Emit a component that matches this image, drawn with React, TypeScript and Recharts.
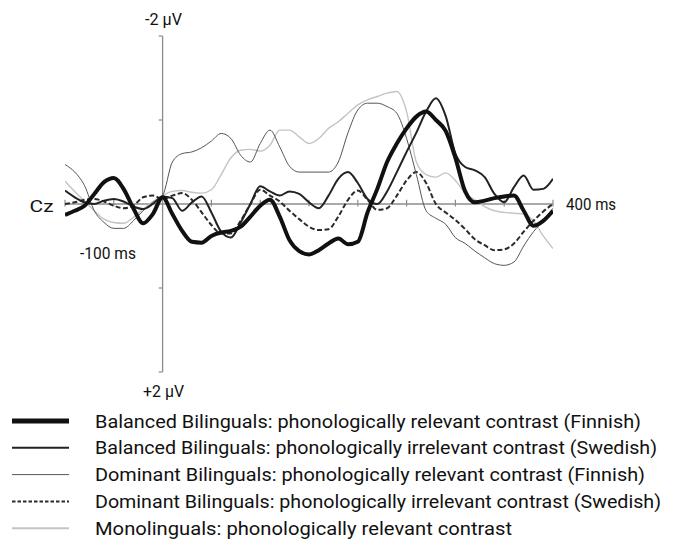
import { Line, LineChart, ReferenceDot, ReferenceLine, XAxis, YAxis } from "recharts";

// time in ms, amplitude in µV (negative plotted up)
const times = [
  -100, -90, -80, -70, -60, -50, -40, -30, -20, -10, 0, 10, 20, 30, 40, 50, 60,
  70, 80, 90, 100, 110, 120, 130, 140, 150, 160, 170, 180, 190, 200, 210, 220,
  230, 240, 250, 260, 270, 280, 290, 300, 310, 320, 330, 340, 350, 360, 370, 380,
  390, 400,
];

const balancedFinnish = [
  0.13, 0.08, 0.02, -0.12, -0.26, -0.31, -0.18, 0.05, 0.23, 0.12, -0.08, 0.12,
  0.32, 0.45, 0.46, 0.38, 0.34, 0.32, 0.27, 0.15, 0.02, -0.05, 0.15, 0.43, 0.56,
  0.6, 0.55, 0.47, 0.41, 0.48, 0.45, 0.1, -0.18, -0.5, -0.72, -0.9, -1.04, -1.1,
  -1.0, -0.87, -0.55, -0.15, -0.02, -0.04, -0.07, -0.09, -0.1, 0.08, 0.26, 0.2,
  0.08,
];

const balancedSwedish = [
  -0.16, -0.08, -0.02, 0.0, -0.04, -0.06, -0.03, 0.03, 0.06, 0.0, -0.09, -0.07,
  0.08, -0.02, -0.09, 0.1, 0.33, 0.4, 0.22, 0.0, -0.21, -0.15, -0.1, -0.15, -0.12,
  -0.02, 0.05, -0.1, -0.3, -0.38, -0.25, -0.06, 0.0, -0.15, -0.38, -0.62, -0.85,
  -1.1, -1.26, -1.05, -0.6, -0.44, -0.4, -0.32, -0.12, -0.02, -0.2, -0.34, -0.17,
  -0.18, -0.3,
];

const dominantFinnish = [
  -0.47, -0.38, -0.22, 0.08, 0.22, 0.29, 0.29, 0.2, 0.08, -0.02, -0.1, -0.5, -0.6,
  -0.62, -0.67, -0.75, -0.84, -0.78, -0.58, -0.5, -0.72, -0.88, -0.68, -0.45,
  -0.38, -0.38, -0.38, -0.38, -0.5, -0.85, -1.12, -1.2, -1.2, -1.16, -1.08, -0.78,
  -0.35, 0.08, 0.17, 0.24, 0.4, 0.47, 0.56, 0.64, 0.71, 0.73, 0.69, 0.5, 0.33,
  0.2, 0.05,
];

const dominantSwedish = [
  0.0, -0.02, -0.05, -0.06, -0.03, 0.02, 0.05, 0.02, -0.08, -0.1, -0.06, -0.1,
  -0.13, -0.05, 0.1, 0.25, 0.35, 0.35, 0.2, 0.0, -0.17, -0.1, -0.03, 0.08, 0.18,
  0.27, 0.31, 0.3, 0.15, -0.05, -0.16, -0.05, 0.07, 0.05, -0.1, -0.28, -0.38,
  -0.25, 0.0, 0.1, 0.19, 0.3, 0.42, 0.49, 0.55, 0.54, 0.47, 0.33, 0.2, 0.09, 0.0,
];

const monolinguals = [
  -0.27, -0.15, -0.03, 0.08, 0.18, 0.22, 0.23, 0.16, 0.06, -0.03, -0.1, -0.15,
  -0.16, -0.14, -0.13, -0.17, -0.35, -0.55, -0.64, -0.65, -0.63, -0.7, -0.88,
  -0.88, -0.8, -0.72, -0.78, -0.9, -0.98, -1.08, -1.18, -1.24, -1.28, -1.32,
  -1.34, -1.1, -0.5, -0.35, -0.32, -0.37, -0.28, -0.13, -0.05, 0.03, 0.08, 0.1,
  0.11, 0.12, 0.2, 0.38, 0.53,
];

const xTicks = [-100, -50, 50, 100, 150, 200, 250, 300, 350, 400];
const yTicks = [-2, -1, 1, 2];

const axisLabels = [
  { t: 1, v: -2.2, text: "-2 µV", width: 37 },
  { t: 1, v: 2.23, text: "+2 µV", width: 41 },
  { t: -124, v: 0.02, text: "Cz", width: 24 },
  { t: -56, v: 0.58, text: "-100 ms", width: 56 },
  { t: 439, v: 0.0, text: "400 ms", width: 50 },
];

const legendNames = [
  "Balanced Bilinguals: phonologically relevant contrast (Finnish)",
  "Balanced Bilinguals: phonologically irrelevant contrast (Swedish)",
  "Dominant Bilinguals: phonologically relevant contrast (Finnish)",
  "Dominant Bilinguals: phonologically irrelevant contrast (Swedish)",
  "Monolinguals: phonologically relevant contrast",
];
const legendWidths = [546, 562, 550, 566, 417];

const styles = [
  { key: "bf", stroke: "#111", width: 4, dash: undefined },
  { key: "bs", stroke: "#222", width: 2, dash: undefined },
  { key: "df", stroke: "#555", width: 1, dash: undefined },
  { key: "ds", stroke: "#2a2a2a", width: 2, dash: "5 2.5" },
  { key: "mono", stroke: "#c4c4c4", width: 1.4, dash: undefined },
];

const rows = times.map((t, i) => ({
  t,
  bf: balancedFinnish[i],
  bs: balancedSwedish[i],
  df: dominantFinnish[i],
  ds: dominantSwedish[i],
  mono: monolinguals[i],
}));

const font = "Roboto, 'Open Sans', sans-serif";
const axisColor = "#8c8c8c";

export default function App() {
  return (
    <div style={{ position: "absolute", left: 0, top: 0, width: 674, height: 540, background: "#fff" }}>
      <LineChart
        width={674}
        height={540}
        data={rows}
        margin={{ top: 36, right: 121, bottom: 168, left: 65 }}
      >
        <XAxis type="number" dataKey="t" domain={[-100, 400]} hide allowDataOverflow />
        <YAxis type="number" domain={[-2, 2]} reversed hide allowDataOverflow />

        <ReferenceLine
          segment={[{ x: -100, y: 0 }, { x: 400, y: 0 }]}
          stroke={axisColor}
          strokeWidth={1.3}
          ifOverflow="visible"
        />
        <ReferenceLine
          segment={[{ x: 0, y: -2 }, { x: 0, y: 2 }]}
          stroke={axisColor}
          strokeWidth={1.3}
          ifOverflow="visible"
        />
        {xTicks.map((t) => (
          <ReferenceLine
            key={"xt" + t}
            segment={[{ x: t, y: -0.05 }, { x: t, y: 0.03 }]}
            stroke={axisColor}
            strokeWidth={1.2}
            ifOverflow="visible"
          />
        ))}
        {yTicks.map((v) => (
          <ReferenceLine
            key={"yt" + v}
            segment={[{ x: -4, y: v }, { x: 0, y: v }]}
            stroke={axisColor}
            strokeWidth={1.2}
            ifOverflow="visible"
          />
        ))}

        {[...styles].reverse().map((s) => (
          <Line
            key={s.key}
            type="monotone"
            dataKey={s.key}
            stroke={s.stroke}
            strokeWidth={s.width}
            strokeDasharray={s.dash}
            dot={false}
            activeDot={false}
            isAnimationActive={false}
          />
        ))}

        {axisLabels.map((l) => (
          <ReferenceDot
            key={l.text}
            x={l.t}
            y={l.v}
            r={0}
            ifOverflow="visible"
            shape={(p: any) => (
              <text
                x={p.cx}
                y={p.cy + 6}
                textAnchor="middle"
                fontFamily={font}
                fontSize={17}
                fill="#111"
                textLength={l.width}
                lengthAdjust="spacingAndGlyphs"
              >
                {l.text}
              </text>
            )}
          />
        ))}
      </LineChart>

      <svg
        width={674}
        height={145}
        style={{ position: "absolute", left: 0, top: 395 }}
      >
        {legendNames.map((name, i) => {
          const y = 26 + i * 26.8;
          const s = styles[i];
          return (
            <g key={name}>
              <line
                x1={12}
                x2={69}
                y1={y}
                y2={y}
                stroke={s.stroke}
                strokeWidth={i === 0 ? 5 : i === 4 ? 2 : s.width}
                strokeDasharray={i === 3 ? "3.5 2" : undefined}
              />
              <text
                x={95}
                y={y + 6.5}
                fontFamily={font}
                fontSize={18}
                fill="#111"
                textLength={legendWidths[i]}
                lengthAdjust="spacingAndGlyphs"
              >
                {name}
              </text>
            </g>
          );
        })}
      </svg>
    </div>
  );
}
